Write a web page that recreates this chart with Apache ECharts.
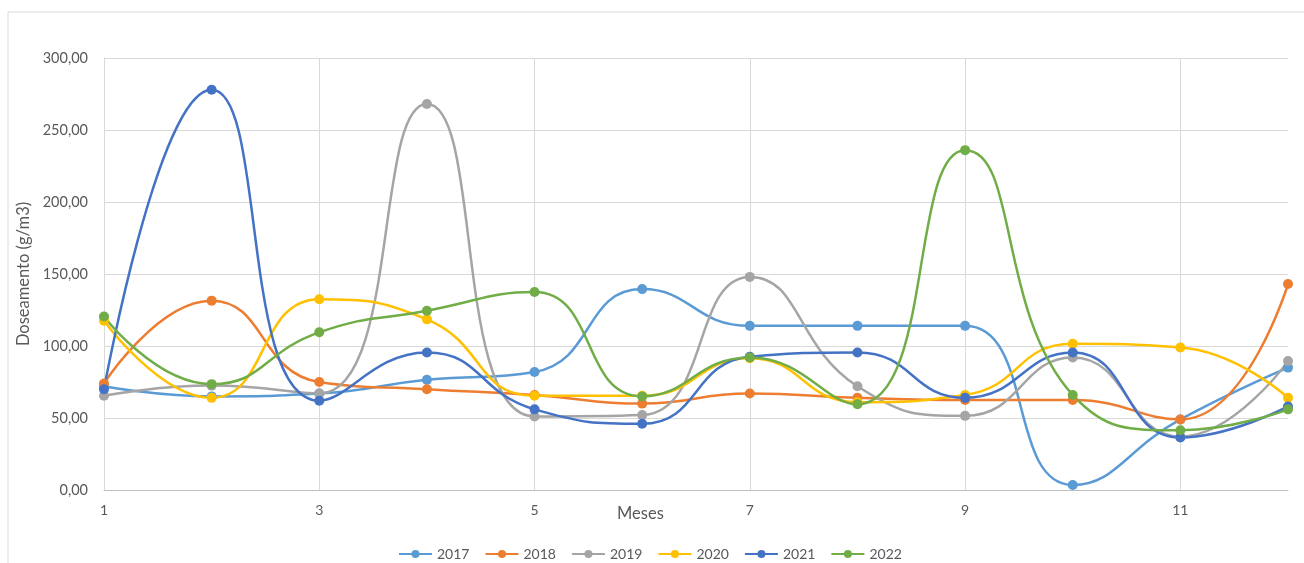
<!DOCTYPE html>
<html><head><meta charset="utf-8">
<script src="https://cdn.jsdelivr.net/npm/echarts@6/dist/echarts.min.js"></script>
<style>html,body{margin:0;padding:0;background:#fff}#c{width:1304px;height:563px}</style>
</head><body><div id="c"></div>
<script>
const months = ['1','2','3','4','5','6','7','8','9','10','11','12'];
const yTicks = [0, 50, 100, 150, 200, 250, 300];
const s2017 = [72, 65, 67, 76.5, 82, 139.5, 114, 114, 114, 3.5, 49, 85];
const s2018 = [74, 131.5, 75, 70, 66, 60, 67, 64, 62.5, 62.5, 49, 143];
const s2019 = [65.5, 72.5, 67, 268, 51, 52, 148, 72, 51.5, 92, 37, 89.5];
const s2020 = [117.5, 64, 132.5, 118.5, 65.5, 65.5, 91.5, 61, 66, 101.5, 99, 64];
const s2021 = [70, 278, 62, 95.5, 56, 46, 92.5, 95.5, 64, 95.5, 36.5, 58];
const s2022 = [120.5, 73.5, 109.5, 124.5, 137.5, 65, 92, 59.5, 236, 66, 41.5, 56];
const seriesNames = ['2017','2018','2019','2020','2021','2022'];
const seriesData = [s2017, s2018, s2019, s2020, s2021, s2022];
const colors = ['#5B9BD5','#ED7D31','#A5A5A5','#FFC000','#4472C4','#70AD47'];
const FONT = 'Lato, "Open Sans", sans-serif';

const chart = echarts.init(document.getElementById('c'));
chart.setOption({
  animation: false,
  color: colors,
  textStyle: {fontFamily: FONT},
  grid: {left: 104, right: 16, top: 58, bottom: 73, containLabel: false},
  graphic: [
    {type: 'polyline', shape: {points: [[8, 563], [8, 12], [1304, 12]]}, style: {stroke: '#d9d9d9', lineWidth: 1, fill: null}, silent: true},
    {type: 'text', left: 617, top: 505, style: {text: 'Meses', font: '16.5px ' + FONT, fill: '#595959'}}
  ],
  legend: {
    top: 542, left: 393, itemWidth: 33, itemHeight: 10, itemGap: 15,
    textStyle: {color: '#595959', fontSize: 14, fontFamily: FONT},
    data: seriesNames
  },
  xAxis: {
    type: 'category', data: months, boundaryGap: false,
    axisLine: {lineStyle: {color: '#bfbfbf', width: 1}},
    axisTick: {show: false},
    axisLabel: {interval: 1, color: '#595959', fontSize: 14, margin: 13, fontFamily: FONT},
    splitLine: {show: true, interval: 1, lineStyle: {color: '#d9d9d9', width: 1}}
  },
  yAxis: {
    type: 'value', min: yTicks[0], max: yTicks[yTicks.length - 1], interval: 50,
    name: 'Doseamento (g/m3)', nameLocation: 'middle', nameGap: 68, nameRotate: 90,
    nameTextStyle: {color: '#595959', fontSize: 16.5, fontFamily: FONT},
    axisLine: {show: true, lineStyle: {color: '#d9d9d9'}},
    axisTick: {show: false},
    axisLabel: {color: '#595959', fontSize: 14.5, margin: 16, fontFamily: FONT,
      formatter: v => v.toFixed(2).replace('.', ',')},
    splitLine: {lineStyle: {color: '#d9d9d9', width: 1}}
  },
  series: seriesNames.map((n, i) => ({
    name: n, type: 'line', data: seriesData[i], smooth: 0.5, smoothConstraint: false,
    symbol: 'circle', symbolSize: 10, showAllSymbol: true,
    lineStyle: {width: 2.5, color: colors[i]},
    itemStyle: {color: colors[i]}
  }))
});
</script></body></html>
